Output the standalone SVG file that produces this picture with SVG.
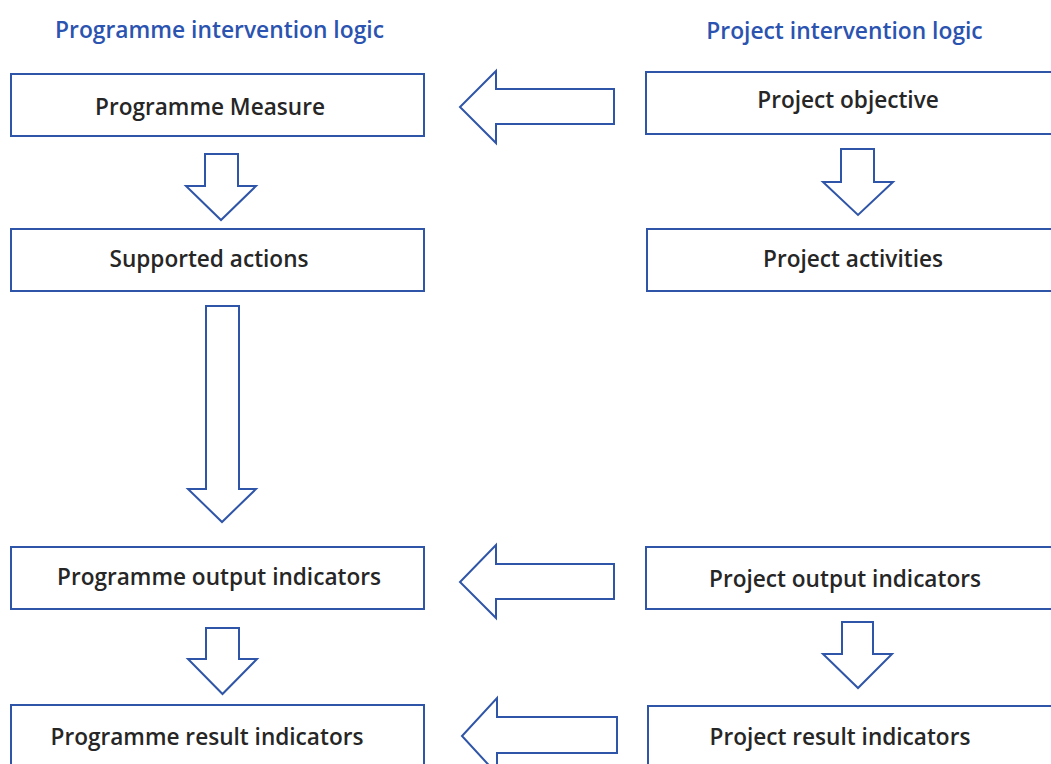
<svg xmlns="http://www.w3.org/2000/svg" width="1051" height="764" viewBox="0 0 1051 764">
<style>
.box{fill:#fff;stroke:#2F55A8;stroke-width:2}
.arr{fill:#fff;stroke:#2F55A8;stroke-width:2;stroke-linejoin:miter}
.lbl{font-family:"Open Sans","Noto Sans","Liberation Sans",sans-serif;font-weight:600;font-size:22.6px;fill:#262626;text-anchor:middle}
.ttl{font-family:"Open Sans","Noto Sans","Liberation Sans",sans-serif;font-weight:600;font-size:22.8px;fill:#2B53B0;text-anchor:middle}
</style>
<rect width="1051" height="764" fill="#fff"/>
<g id="titles">
<text class="ttl" x="219.5" y="38">Programme intervention logic</text>
<text class="ttl" x="844.5" y="39">Project intervention logic</text>
</g>
<g id="connectors">
<polygon class="arr" points="205,154 238,154 238,186 256,186 221,220 186,186 205,186"/>
<polygon class="arr" points="206,306 239,306 239,489 256,489 222,522 188,489 206,489"/>
<polygon class="arr" points="206,628 239,628 239,659 257,659 222.5,694 188,659 206,659"/>
<polygon class="arr" points="841,149 874,149 874,182 893,182 858,215 823,182 841,182"/>
<polygon class="arr" points="842,622 873,622 873,654 892,654 858,688 823,654 842,654"/>
<polygon class="arr" points="614,89 614,124 496,124 496,143 460,107 496,71 496,89"/>
<polygon class="arr" points="614,564 614,599 496,599 496,618 460,582 496,545 496,564"/>
<polygon class="arr" points="617,717 617,753 497,753 497,774 462,736 497,698 497,717"/>
</g>
<g id="programme-measure">
<rect class="box" x="11" y="74" width="413" height="62"/>
<text class="lbl" x="210" y="114.5">Programme Measure</text>
</g>
<g id="supported-actions">
<rect class="box" x="11" y="229" width="413" height="62"/>
<text class="lbl" x="209" y="266.5">Supported actions</text>
</g>
<g id="programme-output-indicators">
<rect class="box" x="11" y="547" width="413" height="62"/>
<text class="lbl" x="219" y="584.5">Programme output indicators</text>
</g>
<g id="programme-result-indicators">
<rect class="box" x="11" y="705" width="413" height="80"/>
<text class="lbl" x="207" y="744.5">Programme result indicators</text>
</g>
<g id="project-objective">
<rect class="box" x="646" y="72" width="420" height="62"/>
<text class="lbl" x="848" y="107.5">Project objective</text>
</g>
<g id="project-activities">
<rect class="box" x="647" y="229" width="420" height="62"/>
<text class="lbl" x="853" y="266.5">Project activities</text>
</g>
<g id="project-output-indicators">
<rect class="box" x="646" y="547" width="420" height="62"/>
<text class="lbl" x="845" y="586.5">Project output indicators</text>
</g>
<g id="project-result-indicators">
<rect class="box" x="648" y="706" width="420" height="80"/>
<text class="lbl" x="840" y="744.5">Project result indicators</text>
</g>
</svg>
